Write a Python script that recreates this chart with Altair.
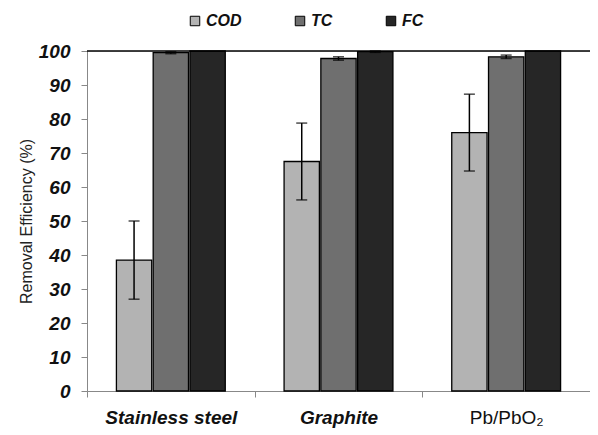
import altair as alt
import pandas as pd

categories = ["Stainless steel", "Graphite", "Pb/PbO₂"]
series = ["COD", "TC", "FC"]
cod = [38.5, 67.5, 76.0]
cod_err = [11.5, 11.3, 11.3]
tc = [99.5, 97.8, 98.3]
tc_err = [0.3, 0.5, 0.5]
fc = [100.0, 99.8, 100.0]
fc_err = [0.0, 0.2, 0.0]
colors = ["#b3b3b3", "#6f6f6f", "#262626"]

rows = []
for s, vals, errs in [("COD", cod, cod_err), ("TC", tc, tc_err), ("FC", fc, fc_err)]:
    for c, v, e in zip(categories, vals, errs):
        rows.append({"cat": c, "series": s, "value": v, "err": e,
                     "lo": v - e, "hi": min(v + e, 100.0)})
df = pd.DataFrame(rows)

FONT = "Liberation Sans"

x_enc = alt.X("cat:N", sort=categories,
              scale=alt.Scale(paddingInner=0, paddingOuter=0),
              axis=alt.Axis(title=None, labelAngle=0, tickBand="extent",
                            labelFont=FONT,
                            labelFontSize=alt.ExprRef(expr="datum.value == 'Pb/PbO₂' ? 19 : 19"),
                            labelFontWeight=alt.ExprRef(expr="datum.value == 'Pb/PbO₂' ? 'normal' : 'bold'"),
                            labelFontStyle=alt.ExprRef(expr="datum.value == 'Pb/PbO₂' ? 'normal' : 'italic'"),
                            labelPadding=11, tickSize=6, labelColor="#111"))
xo_enc = alt.XOffset("series:N", sort=series,
                     scale=alt.Scale(domain=series, paddingOuter=0.8, paddingInner=0.04))
y_scale = alt.Scale(domain=[0, 100])
y_axis = alt.Axis(title="Removal Efficiency (%)", values=list(range(0, 101, 10)),
                  grid=False, labelFontSize=19, labelFont=FONT,
                  labelFontWeight="bold", labelFontStyle="italic",
                  labelOverlap=False,
                  titleFontSize=16, titleFontWeight="normal", titleFont=FONT,
                  titleColor="#222", labelColor="#111",
                  tickSize=6, labelPadding=11, titlePadding=4)

base = alt.Chart(df).encode(x=x_enc, xOffset=xo_enc)

bars = base.mark_bar(stroke="black", strokeWidth=1.3).encode(
    y=alt.Y("value:Q", scale=y_scale, axis=y_axis),
    color=alt.Color("series:N", sort=series,
                    scale=alt.Scale(domain=series, range=colors),
                    legend=alt.Legend(title=None, orient="none", direction="horizontal",
                                      legendX=100, legendY=-38,
                                      symbolType="square", symbolSize=90,
                                      symbolStrokeColor="black", symbolStrokeWidth=1,
                                      labelFont=FONT, labelFontSize=16,
                                      labelFontWeight="bold", labelFontStyle="italic",
                                      labelColor="#111", columnPadding=50, labelOffset=3)),
)

err_df = base.transform_filter("datum.err > 0")
rules = err_df.mark_rule(color="black", strokeWidth=1.5).encode(
    y=alt.Y("lo:Q", scale=y_scale, axis=y_axis), y2="hi:Q")
caps_hi = err_df.mark_tick(color="black", thickness=1.5, size=11).encode(
    y=alt.Y("hi:Q", scale=y_scale, axis=y_axis))
caps_lo = err_df.mark_tick(color="black", thickness=1.5, size=11).encode(
    y=alt.Y("lo:Q", scale=y_scale, axis=y_axis))

top_line = alt.Chart(pd.DataFrame({"v": [100]})).mark_rule(color="black", strokeWidth=1.5).encode(
    y=alt.Y("v:Q", scale=y_scale, axis=y_axis))

chart = alt.layer(bars, rules, caps_hi, caps_lo, top_line).properties(
    width=503, height=340,
    padding={"left": 79, "top": 43, "right": 0, "bottom": 40},
    autosize=alt.AutoSizeParams(type="none"),
).configure_view(stroke=None).configure_axis(
    domainColor="black", domainWidth=1.5, tickColor="black", tickWidth=1.5
).configure(background="white")

chart.save("out.html", embed_options={"renderer": "svg", "actions": False})
